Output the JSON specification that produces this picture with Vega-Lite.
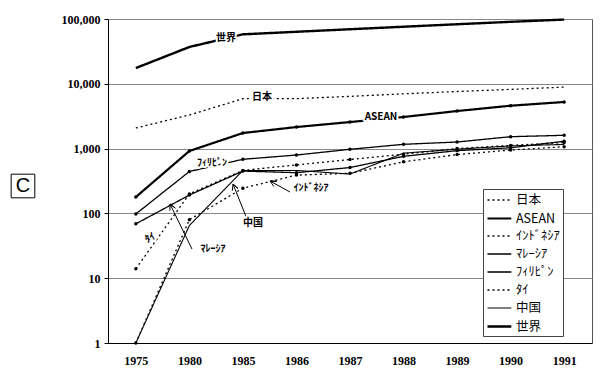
{
  "$schema": "https://vega.github.io/schema/vega-lite/v6.json",
  "width": 484,
  "height": 324,
  "autosize": {"type": "none"},
  "padding": {"left": 108, "top": 19, "right": 8, "bottom": 34},
  "background": "white",
  "config": {"view": {"stroke": "#555", "strokeWidth": 1}},
  "datasets": {
    "main": [
      {"year": 1975, "series": "日本", "value": 2080}, {"year": 1980, "series": "日本", "value": 3300}, {"year": 1985, "series": "日本", "value": 5890}, {"year": 1986, "series": "日本", "value": 5900}, {"year": 1987, "series": "日本", "value": 6400}, {"year": 1988, "series": "日本", "value": 7000}, {"year": 1989, "series": "日本", "value": 7600}, {"year": 1990, "series": "日本", "value": 8200}, {"year": 1991, "series": "日本", "value": 8900},
      {"year": 1975, "series": "ASEAN", "value": 179}, {"year": 1980, "series": "ASEAN", "value": 918}, {"year": 1985, "series": "ASEAN", "value": 1740}, {"year": 1986, "series": "ASEAN", "value": 2150}, {"year": 1987, "series": "ASEAN", "value": 2570}, {"year": 1988, "series": "ASEAN", "value": 3075}, {"year": 1989, "series": "ASEAN", "value": 3800}, {"year": 1990, "series": "ASEAN", "value": 4590}, {"year": 1991, "series": "ASEAN", "value": 5240},
      {"year": 1975, "series": "ｲﾝﾄﾞﾈｼｱ", "value": 1}, {"year": 1980, "series": "ｲﾝﾄﾞﾈｼｱ", "value": 80}, {"year": 1985, "series": "ｲﾝﾄﾞﾈｼｱ", "value": 245}, {"year": 1986, "series": "ｲﾝﾄﾞﾈｼｱ", "value": 390}, {"year": 1987, "series": "ｲﾝﾄﾞﾈｼｱ", "value": 415}, {"year": 1988, "series": "ｲﾝﾄﾞﾈｼｱ", "value": 625}, {"year": 1989, "series": "ｲﾝﾄﾞﾈｼｱ", "value": 810}, {"year": 1990, "series": "ｲﾝﾄﾞﾈｼｱ", "value": 950}, {"year": 1991, "series": "ｲﾝﾄﾞﾈｼｱ", "value": 1070},
      {"year": 1975, "series": "ﾏﾚｰｼｱ", "value": 69}, {"year": 1980, "series": "ﾏﾚｰｼｱ", "value": 192}, {"year": 1985, "series": "ﾏﾚｰｼｱ", "value": 450}, {"year": 1986, "series": "ﾏﾚｰｼｱ", "value": 425}, {"year": 1987, "series": "ﾏﾚｰｼｱ", "value": 510}, {"year": 1988, "series": "ﾏﾚｰｼｱ", "value": 760}, {"year": 1989, "series": "ﾏﾚｰｼｱ", "value": 930}, {"year": 1990, "series": "ﾏﾚｰｼｱ", "value": 1030}, {"year": 1991, "series": "ﾏﾚｰｼｱ", "value": 1300},
      {"year": 1975, "series": "ﾌｨﾘﾋﾟﾝ", "value": 98}, {"year": 1980, "series": "ﾌｨﾘﾋﾟﾝ", "value": 443}, {"year": 1985, "series": "ﾌｨﾘﾋﾟﾝ", "value": 684}, {"year": 1986, "series": "ﾌｨﾘﾋﾟﾝ", "value": 796}, {"year": 1987, "series": "ﾌｨﾘﾋﾟﾝ", "value": 975}, {"year": 1988, "series": "ﾌｨﾘﾋﾟﾝ", "value": 1165}, {"year": 1989, "series": "ﾌｨﾘﾋﾟﾝ", "value": 1264}, {"year": 1990, "series": "ﾌｨﾘﾋﾟﾝ", "value": 1527}, {"year": 1991, "series": "ﾌｨﾘﾋﾟﾝ", "value": 1604},
      {"year": 1975, "series": "ﾀｲ", "value": 14}, {"year": 1980, "series": "ﾀｲ", "value": 200}, {"year": 1985, "series": "ﾀｲ", "value": 460}, {"year": 1986, "series": "ﾀｲ", "value": 560}, {"year": 1987, "series": "ﾀｲ", "value": 680}, {"year": 1988, "series": "ﾀｲ", "value": 820}, {"year": 1989, "series": "ﾀｲ", "value": 1000}, {"year": 1990, "series": "ﾀｲ", "value": 1120}, {"year": 1991, "series": "ﾀｲ", "value": 1240},
      {"year": 1975, "series": "中国", "value": 1}, {"year": 1980, "series": "中国", "value": 65}, {"year": 1985, "series": "中国", "value": 460}, {"year": 1986, "series": "中国", "value": 460}, {"year": 1987, "series": "中国", "value": 405}, {"year": 1988, "series": "中国", "value": 850}, {"year": 1989, "series": "中国", "value": 980}, {"year": 1990, "series": "中国", "value": 1100}, {"year": 1991, "series": "中国", "value": 1160},
      {"year": 1975, "series": "世界", "value": 17500}, {"year": 1980, "series": "世界", "value": 37000}, {"year": 1985, "series": "世界", "value": 58000}, {"year": 1986, "series": "世界", "value": 63500}, {"year": 1987, "series": "世界", "value": 69500}, {"year": 1988, "series": "世界", "value": 76000}, {"year": 1989, "series": "世界", "value": 83000}, {"year": 1990, "series": "世界", "value": 90500}, {"year": 1991, "series": "世界", "value": 98000}
    ],
    "labels": [
      {"label": "世界", "q": 1.684, "v": 50900},
      {"label": "日本", "q": 2.356, "v": 6260},
      {"label": "ASEAN", "q": 4.579, "v": 3075},
      {"label": "ﾌｨﾘﾋﾟﾝ", "q": 1.422, "v": 600},
      {"label": "ｲﾝﾄﾞﾈｼｱ", "q": 3.271, "v": 247},
      {"label": "中国", "q": 2.188, "v": 71},
      {"label": "ﾀｲ", "q": 0.264, "v": 41.7},
      {"label": "ﾏﾚｰｼｱ", "q": 1.441, "v": 28.3}
    ],
    "arrows": [
      {"arrow": "m", "ord": 1, "q": 1.049, "v": 28.2}, {"arrow": "m", "ord": 2, "q": 0.638, "v": 139.7}, {"arrow": "m", "ord": 3, "q": 0.737, "v": 120.7}, {"arrow": "m", "ord": 4, "q": 0.638, "v": 139.7}, {"arrow": "m", "ord": 5, "q": 0.636, "v": 110.1},
      {"arrow": "c", "ord": 1, "q": 2.076, "v": 81.9}, {"arrow": "c", "ord": 2, "q": 1.815, "v": 284.3}, {"arrow": "c", "ord": 3, "q": 1.908, "v": 242.3}, {"arrow": "c", "ord": 4, "q": 1.815, "v": 284.3}, {"arrow": "c", "ord": 5, "q": 1.803, "v": 224.0},
      {"arrow": "i", "ord": 1, "q": 2.879, "v": 213.9}, {"arrow": "i", "ord": 2, "q": 2.506, "v": 316.2}, {"arrow": "i", "ord": 3, "q": 2.631, "v": 312.9}, {"arrow": "i", "ord": 4, "q": 2.506, "v": 316.2}, {"arrow": "i", "ord": 5, "q": 2.577, "v": 260.0}
    ],
    "panel": [{"label": "C", "q": -2.108, "v": 264.8}]
  },
  "layer": [
    {
      "data": {"name": "main"},
      "layer": [
        {
          "mark": {"type": "line", "color": "black"},
          "encoding": {
            "x": {"field": "year", "type": "ordinal", "scale": {"type": "point", "padding": 0.52},
              "axis": {"title": null, "labelAngle": 0, "ticks": false, "labelPadding": 12, "labelFont": "Liberation Serif", "labelFontWeight": "bold", "labelFontSize": 12, "labelColor": "black", "domainColor": "black", "grid": false}},
            "y": {"field": "value", "type": "quantitative", "scale": {"type": "log", "domain": [1, 100000], "nice": false},
              "axis": {"title": null, "values": [1, 10, 100, 1000, 10000, 100000], "format": ",", "labelFont": "Liberation Serif", "labelFontWeight": "bold", "labelFontSize": 12, "labelColor": "black", "grid": true, "gridColor": "#888", "domainColor": "black", "tickColor": "black", "tickSize": 4, "labelPadding": 4}},
            "strokeDash": {"field": "series", "type": "nominal",
              "scale": {"domain": ["日本", "ASEAN", "ｲﾝﾄﾞﾈｼｱ", "ﾏﾚｰｼｱ", "ﾌｨﾘﾋﾟﾝ", "ﾀｲ", "中国", "世界"],
                "range": [[2, 3], [1, 0], [2, 3], [1, 0], [1, 0], [2, 3], [1, 0], [1, 0]]},
              "legend": {"orient": "none", "legendX": 375, "legendY": 170, "title": null, "strokeColor": "#444", "fillColor": "white", "padding": 3, "labelFont": "Noto Sans CJK JP", "labelFontSize": 12.5, "labelColor": "black", "symbolType": "M-1,0H2.4", "symbolSize": 196, "symbolStrokeColor": "black", "rowPadding": 3, "labelOffset": 13}},
            "strokeWidth": {"field": "series", "type": "nominal",
              "scale": {"type": "ordinal", "domain": ["日本", "ASEAN", "ｲﾝﾄﾞﾈｼｱ", "ﾏﾚｰｼｱ", "ﾌｨﾘﾋﾟﾝ", "ﾀｲ", "中国", "世界"],
                "range": [1.3, 2.2, 1.3, 1.3, 1.3, 1.3, 1.1, 2.4]},
              "legend": {"orient": "none", "legendX": 375, "legendY": 170, "title": null, "strokeColor": "#444", "fillColor": "white", "padding": 3, "labelFont": "Noto Sans CJK JP", "labelFontSize": 12.5, "labelColor": "black", "symbolType": "M-1,0H2.4", "symbolSize": 196, "symbolStrokeColor": "black", "rowPadding": 3, "labelOffset": 13}}
          }
        },
        {
          "transform": [{"filter": {"field": "series", "oneOf": ["ASEAN", "ｲﾝﾄﾞﾈｼｱ", "ﾏﾚｰｼｱ", "ﾌｨﾘﾋﾟﾝ", "ﾀｲ"]}}],
          "mark": {"type": "point", "filled": true, "color": "black", "size": 12, "opacity": 1},
          "encoding": {
            "x": {"field": "year", "type": "ordinal"},
            "y": {"field": "value", "type": "quantitative", "title": null}
          }
        }
      ]
    },
    {
      "data": {"name": "arrows"},
      "mark": {"type": "line", "color": "black", "strokeWidth": 1},
      "encoding": {
        "x": {"field": "q", "type": "quantitative", "scale": {"domain": [-0.52, 8.52], "nice": false, "zero": false}, "axis": null},
        "y": {"field": "v", "type": "quantitative", "title": null},
        "detail": {"field": "arrow"},
        "order": {"field": "ord", "type": "quantitative"}
      }
    },
    {
      "data": {"name": "labels"},
      "mark": {"type": "text", "font": "Noto Sans CJK JP", "fontSize": 10, "fontWeight": "bold", "fill": "white", "stroke": "white", "strokeWidth": 4, "strokeJoin": "round"},
      "encoding": {
        "x": {"field": "q", "type": "quantitative", "scale": {"domain": [-0.52, 8.52], "nice": false, "zero": false}, "axis": null},
        "y": {"field": "v", "type": "quantitative", "title": null},
        "text": {"field": "label"},
        "angle": {"condition": {"test": "datum.label === 'ﾀｲ'", "value": 330}, "value": 0}
      }
    },
    {
      "data": {"name": "labels"},
      "mark": {"type": "text", "font": "Noto Sans CJK JP", "fontSize": 10, "fontWeight": "bold", "fill": "black"},
      "encoding": {
        "x": {"field": "q", "type": "quantitative", "scale": {"domain": [-0.52, 8.52], "nice": false, "zero": false}, "axis": null},
        "y": {"field": "v", "type": "quantitative", "title": null},
        "text": {"field": "label"},
        "angle": {"condition": {"test": "datum.label === 'ﾀｲ'", "value": 330}, "value": 0}
      }
    },
    {
      "data": {"name": "panel"},
      "mark": {"type": "point", "shape": "square", "filled": false, "stroke": "black", "strokeWidth": 1, "size": 560, "opacity": 1},
      "encoding": {
        "x": {"field": "q", "type": "quantitative", "scale": {"domain": [-0.52, 8.52], "nice": false, "zero": false}, "axis": null},
        "y": {"field": "v", "type": "quantitative", "title": null}
      }
    },
    {
      "data": {"name": "panel"},
      "mark": {"type": "text", "font": "Liberation Sans", "fontSize": 20, "fill": "black"},
      "encoding": {
        "x": {"field": "q", "type": "quantitative", "scale": {"domain": [-0.52, 8.52], "nice": false, "zero": false}, "axis": null},
        "y": {"field": "v", "type": "quantitative", "title": null},
        "text": {"field": "label"}
      }
    }
  ],
  "resolve": {"scale": {"x": "independent"}}
}
